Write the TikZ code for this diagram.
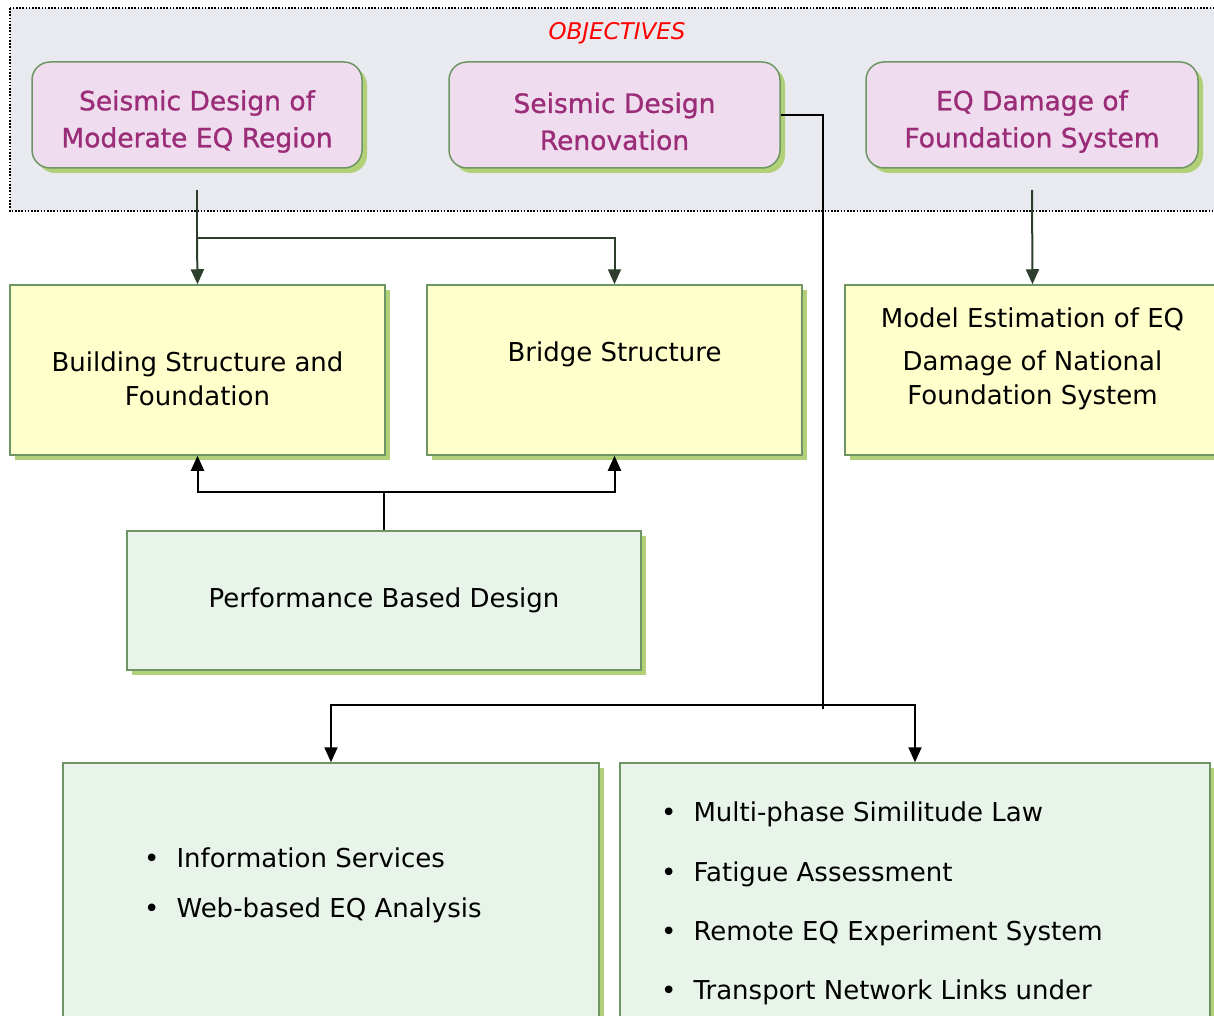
\documentclass[tikz,border=0pt]{standalone}
\usepackage{fontspec}
\setmainfont{DejaVu Sans}
\newfontfamily\purplefont[FakeBold=1]{DejaVu Sans}
\usetikzlibrary{arrows.meta,shadows}
\definecolor{regionfill}{RGB}{233,234,240}
\definecolor{objfill}{RGB}{239,221,239}
\definecolor{objtext}{RGB}{155,45,120}
\definecolor{boxborder}{RGB}{110,150,100}
\definecolor{shgreen}{RGB}{178,208,120}
\definecolor{yellowfill}{RGB}{255,255,204}
\definecolor{greenfill}{RGB}{232,243,234}
\definecolor{dgline}{RGB}{45,62,45}
\begin{document}
\begin{tikzpicture}[x=1pt,y=-1pt,
  sh/.style={drop shadow={shadow xshift=5pt,shadow yshift=-5pt,fill=shgreen,opacity=1}},
  objbox/.style={sh,draw=boxborder,line width=1.5pt,fill=objfill,rounded corners=18pt,
     minimum height=106pt,inner sep=0pt},
  objtxt/.style={inner sep=0pt,align=center,text=objtext,
     font=\purplefont\fontsize{26.5}{37}\selectfont},
  ybox/.style={sh,draw=boxborder,line width=1.5pt,fill=yellowfill,minimum width=375pt,
     minimum height=170pt,inner sep=0pt},
  gbox/.style={sh,draw=boxborder,line width=1.5pt,fill=greenfill,inner sep=0pt},
  txt/.style={inner sep=0pt,align=center,font=\fontsize{26}{34}\selectfont},
  itm/.style={inner sep=0pt,anchor=west,font=\fontsize{26}{34}\selectfont},
  gline/.style={draw=dgline,line width=2pt},
  bline/.style={draw=black,line width=2pt},
  garr/.style={gline,-{Triangle[length=15pt,width=13pt]}},
  barr/.style={bline,-{Triangle[length=15pt,width=13pt]}}
]
\useasboundingbox (0,0) rectangle (1214,1016);
\clip (0,0) rectangle (1214,1016);
% objectives region
\draw[fill=regionfill,dash pattern=on 1.6pt off 1.6pt,line width=1.6pt] (10,8) rectangle (1230,211);
\node[inner sep=0pt,text=red,font=\itshape\fontsize{23}{26}\selectfont] (objt) at (617,33) {OBJECTIVES};
\node[objbox,minimum width=330pt] (p1) at (197,115) {};
\node[objtxt] (p1t) at (197,121.5) {Seismic Design of\\Moderate EQ Region};
\node[objbox,minimum width=331pt] (p2) at (614.5,115) {};
\node[objtxt] (p2t) at (614.5,121.5) {Seismic Design\\Renovation};
\node[objbox,minimum width=332pt] (p3) at (1032,115) {};
\node[objtxt] (p3t) at (1032,121.5) {EQ Damage of\\Foundation System};
% yellow boxes
\node[ybox] (A) at (197.5,370) {};
\node[txt] (At) at (197.5,379) {Building Structure and\\Foundation};
\node[ybox] (B) at (614.5,370) {};
\node[txt] (Bt) at (614.5,354) {Bridge Structure};
\node[ybox] (C) at (1032.5,370) {};
\node[txt] (Ct) at (1032.5,358.5) {Model Estimation of EQ\\[9pt]Damage of National\\Foundation System};
% performance based design
\node[gbox,minimum width=514pt,minimum height=139pt,font=\fontsize{26}{34}\selectfont] (PBD) at (384,600.5) {Performance Based Design};
% bottom boxes
\node[gbox,minimum width=536pt,minimum height=266pt] (L) at (331,896) {};
\node[gbox,minimum width=590pt,minimum height=266pt] (R) at (915,896) {};
\node[itm] (L1) at (144,858) {•\hspace{17pt}Information Services};
\node[itm] (L2) at (144,910) {•\hspace{17pt}Web-based EQ Analysis};
\node[itm] (R1) at (661,814) {•\hspace{17pt}Multi-phase Similitude Law};
\node[itm] (R2) at (661,874) {•\hspace{17pt}Fatigue Assessment};
\node[itm] (R3) at (661,933) {•\hspace{17pt}Remote EQ Experiment System};
\node[itm] (R4) at (661,992) {•\hspace{17pt}Transport Network Links under};
% connectors
\coordinate (p1s) at (197,190);
\coordinate (j1) at (197,238);
\coordinate (p3s) at (1032,190);
\coordinate (j2) at (384,492);
\coordinate (j3) at (823,709);
\coordinate (j4) at (823,705);
\draw[gline] (p1s) -- (j1);
\draw[garr] (j1) -- (A.north);
\draw[garr] (j1) -| (B.north);
\draw[garr] (p3s) -- (C.north);
\draw[bline] (PBD.north) -- (j2);
\draw[barr] (j2) -| (A.south);
\draw[barr] (j2) -| (B.south);
\draw[bline] (p2.east) -| (j3);
\draw[barr] (j4) -| (L.north);
\draw[barr] (j4) -| (R.north);
\end{tikzpicture}
\end{document}
